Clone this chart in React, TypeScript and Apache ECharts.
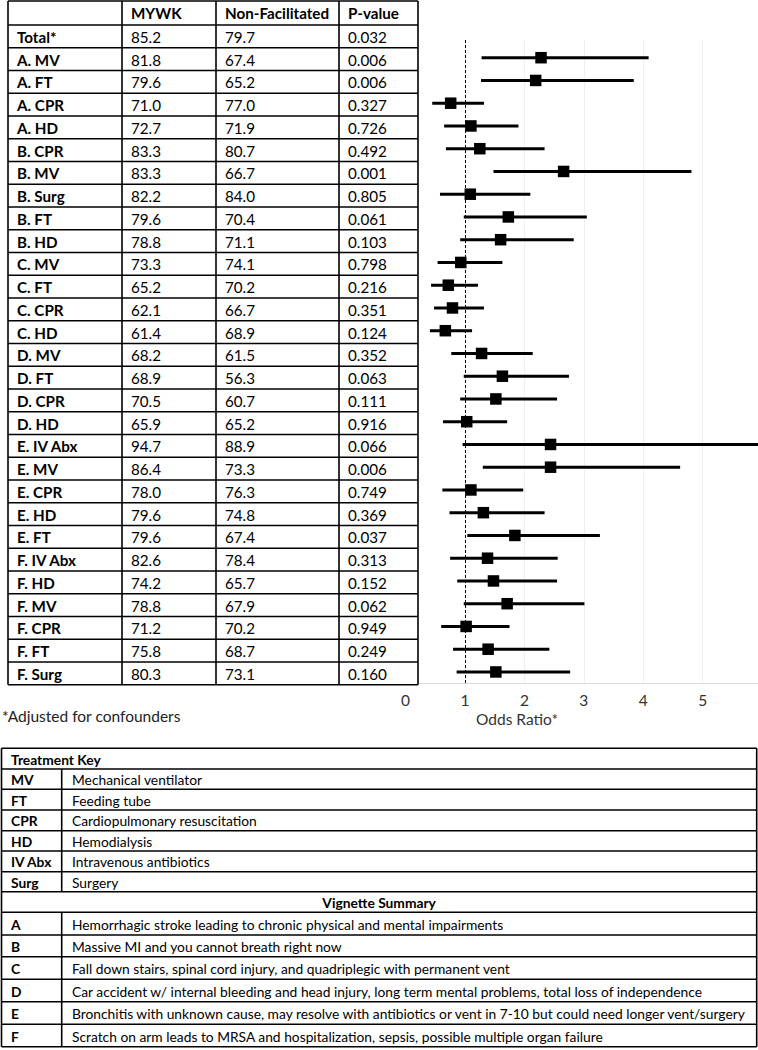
import React, { useEffect, useRef } from "react";
import * as echarts from "echarts";

const headers = ["", "MYWK", "Non-Facilitated", "P-value"];
const rowLabels = ["Total*", "A. MV", "A. FT", "A. CPR", "A. HD", "B. CPR", "B. MV", "B. Surg", "B. FT", "B. HD", "C. MV", "C. FT", "C. CPR", "C. HD", "D. MV", "D. FT", "D. CPR", "D. HD", "E. IV Abx", "E. MV", "E. CPR", "E. HD", "E. FT", "F. IV Abx", "F. HD", "F. MV", "F. CPR", "F. FT", "F. Surg"];
const mywk = ["85.2", "81.8", "79.6", "71.0", "72.7", "83.3", "83.3", "82.2", "79.6", "78.8", "73.3", "65.2", "62.1", "61.4", "68.2", "68.9", "70.5", "65.9", "94.7", "86.4", "78.0", "79.6", "79.6", "82.6", "74.2", "78.8", "71.2", "75.8", "80.3"];
const nonFac = ["79.7", "67.4", "65.2", "77.0", "71.9", "80.7", "66.7", "84.0", "70.4", "71.1", "74.1", "70.2", "66.7", "68.9", "61.5", "56.3", "60.7", "65.2", "88.9", "73.3", "76.3", "74.8", "67.4", "78.4", "65.7", "67.9", "70.2", "68.7", "73.1"];
const pValues = ["0.032", "0.006", "0.006", "0.327", "0.726", "0.492", "0.001", "0.805", "0.061", "0.103", "0.798", "0.216", "0.351", "0.124", "0.352", "0.063", "0.111", "0.916", "0.066", "0.006", "0.749", "0.369", "0.037", "0.313", "0.152", "0.062", "0.949", "0.249", "0.160"];

// Odds ratios for rows 1..28 (Total has no marker)
const orEst = [2.28, 2.19, 0.76, 1.10, 1.25, 2.66, 1.09, 1.73, 1.60, 0.93, 0.72, 0.79, 0.67, 1.28, 1.63, 1.52, 1.03, 2.44, 2.44, 1.10, 1.31, 1.84, 1.38, 1.48, 1.71, 1.02, 1.39, 1.52];
const orLow = [1.28, 1.27, 0.45, 0.65, 0.68, 1.48, 0.58, 0.98, 0.92, 0.54, 0.43, 0.48, 0.41, 0.77, 0.98, 0.92, 0.63, 0.96, 1.30, 0.62, 0.74, 1.04, 0.75, 0.87, 0.98, 0.60, 0.80, 0.86];
const orHigh = [4.09, 3.84, 1.32, 1.90, 2.34, 4.81, 2.10, 3.05, 2.83, 1.63, 1.22, 1.32, 1.12, 2.14, 2.75, 2.55, 1.71, 6.30, 4.62, 1.98, 2.34, 3.27, 2.56, 2.55, 3.01, 1.75, 2.42, 2.77];

const xTicks = [0, 1, 2, 3, 4, 5];

const treatKeys = ["MV", "FT", "CPR", "HD", "IV Abx", "Surg"];
const treatDesc = ["Mechanical ventilator", "Feeding tube", "Cardiopulmonary resuscitation", "Hemodialysis", "Intravenous antibiotics", "Surgery"];
const vignKeys = ["A", "B", "C", "D", "E", "F"];
const vignDesc = [
  "Hemorrhagic stroke leading to chronic physical and mental impairments",
  "Massive MI and you cannot breath right now",
  "Fall down stairs, spinal cord injury, and quadriplegic with permanent vent",
  "Car accident w/ internal bleeding and head injury, long term mental problems, total loss of independence",
  "Bronchitis with unknown cause, may resolve with antibiotics or vent in 7-10 but could need longer vent/surgery",
  "Scratch on arm leads to MRSA and hospitalization, sepsis, possible multiple organ failure",
];

const FONT = "Lato, 'Liberation Sans', sans-serif";

function buildGraphics() {
  const els: any[] = [];
  const line = (x1: number, y1: number, x2: number, y2: number, w = 1.6) =>
    els.push({ type: "line", z: 101, silent: true, shape: { x1, y1, x2, y2 }, style: { stroke: "#000", lineWidth: w } });
  const text = (t: string, x: number, y: number, size: number, bold: boolean, align = "left") =>
    els.push({
      type: "text", z: 102, silent: true, x, y,
      style: { text: t, fontFamily: FONT, fontSize: size, fontWeight: bold ? "bold" : "normal", fill: "#000", align, verticalAlign: "middle" },
    });

  // ---- top table ----
  const cols = [8, 122, 216, 339, 418];
  const top = 1, headBottom = 25, rowH = 22.75;
  const nRows = rowLabels.length;
  const bottom = headBottom + rowH * nRows;
  els.push({ type: "rect", z: 100, silent: true, shape: { x: cols[0], y: 0, width: cols[4] - cols[0], height: bottom + 1 }, style: { fill: "#fff" } });
  line(cols[0], top, cols[4], top);
  line(cols[0], headBottom, cols[4], headBottom);
  for (let i = 1; i <= nRows; i++) line(cols[0], headBottom + rowH * i, cols[4], headBottom + rowH * i);
  cols.forEach((c) => line(c, top, c, bottom));
  headers.forEach((h, j) => { if (h) text(h, cols[j] + 9, 13, 15.2, true); });
  rowLabels.forEach((lab, i) => {
    const yc = headBottom + rowH * (i + 0.5) + 0.5;
    text(lab, cols[0] + 9, yc, 15.2, true);
    text(mywk[i], cols[1] + 9, yc, 15.2, false);
    text(nonFac[i], cols[2] + 9, yc, 15.2, false);
    text(pValues[i], cols[3] + 9, yc, 15.2, false);
  });

  // ---- footnote and axis title ----
  els.push({ type: "text", z: 102, silent: true, x: 2, y: 716, style: { text: "*Adjusted for confounders", fontFamily: FONT, fontSize: 15.5, fill: "#222", verticalAlign: "middle" } });
  els.push({ type: "text", z: 102, silent: true, x: 517, y: 719, style: { text: "Odds Ratio*", fontFamily: FONT, fontSize: 15.5, fill: "#333", align: "center", verticalAlign: "middle" } });

  // ---- bottom tables ----
  const L = 1.5, C = 61.7, R = 756.7;
  const hy = [748.3, 769, 789.3, 810, 830.7, 851, 871.7, 891.7, 912.3, 935, 956.7, 979.3, 1001.7, 1024.3, 1046.7];
  hy.forEach((y) => line(L, y, R, y));
  line(L, hy[0], L, hy[hy.length - 1]);
  line(R, hy[0], R, hy[hy.length - 1]);
  line(C, hy[1], C, hy[7]);
  line(C, hy[8], C, hy[14]);
  const fs = 13.8;
  text("Treatment Key", 11, (hy[0] + hy[1]) / 2 + 0.5, fs, true);
  treatKeys.forEach((k, i) => {
    const yc = (hy[1 + i] + hy[2 + i]) / 2 + 0.5;
    text(k, 11, yc, fs, true);
    text(treatDesc[i], 72, yc, fs, false);
  });
  text("Vignette Summary", (L + R) / 2, (hy[7] + hy[8]) / 2 + 0.5, fs, true, "center");
  vignKeys.forEach((k, i) => {
    const yc = (hy[8 + i] + hy[9 + i]) / 2 + 0.5;
    text(k, 11, yc, fs, true);
    text(vignDesc[i], 72, yc, fs, false);
  });
  return els;
}

export default function App() {
  const ref = useRef<HTMLDivElement>(null);
  useEffect(() => {
    if (!ref.current) return;
    const chart = echarts.init(ref.current, null, { renderer: "svg" });
    const ciData = orEst.map((_, i) => [orLow[i], orHigh[i], i + 1]);
    const estData = orEst.map((v, i) => [v, i + 1]);
    const rowTop = 34.95, rowStep = 22.75, gridTop = 40, axisY = 683;
    chart.setOption({
      animation: false,
      textStyle: { fontFamily: FONT },
      grid: { left: 405.5, right: 0, top: gridTop, bottom: 1050 - axisY, containLabel: false },
      xAxis: {
        type: "value", min: 0, max: 5.93, interval: 1,
        axisLine: { show: true, lineStyle: { color: "#d9d9d9", width: 1 } },
        axisTick: { show: false },
        axisLabel: {
          fontSize: 15.5, color: "#333", margin: 9, fontFamily: FONT, showMaxLabel: false,
          formatter: (v: number) => (xTicks.indexOf(v) >= 0 ? String(v) : ""),
        },
        splitLine: { show: true, lineStyle: { color: "#efefef", width: 1 } },
      },
      yAxis: {
        type: "value", inverse: true,
        min: (gridTop - rowTop) / rowStep, max: (axisY - rowTop) / rowStep,
        show: false, splitLine: { show: false },
      },
      series: [
        {
          type: "custom", clip: true, silent: true,
          encode: { x: [0, 1], y: 2 },
          data: ciData,
          renderItem: (params: any, api: any) => {
            const s = api.coord([api.value(0), api.value(2)]);
            const e = api.coord([api.value(1), api.value(2)]);
            return { type: "line", shape: { x1: s[0], y1: s[1], x2: e[0], y2: e[1] }, style: { stroke: "#000", lineWidth: 3 } };
          },
        },
        {
          type: "scatter", symbol: "rect", symbolSize: 11.5, silent: true, z: 3,
          itemStyle: { color: "#000", opacity: 1 },
          data: estData,
          markLine: {
            silent: true, symbol: "none", label: { show: false },
            lineStyle: { color: "#000", type: [3, 2], width: 1 },
            data: [{ xAxis: 1 }],
          },
        },
      ],
      graphic: buildGraphics(),
    });
    return () => chart.dispose();
  }, []);
  return <div ref={ref} style={{ position: "absolute", left: 0, top: 0, width: 758, height: 1050, background: "#fff" }} />;
}
